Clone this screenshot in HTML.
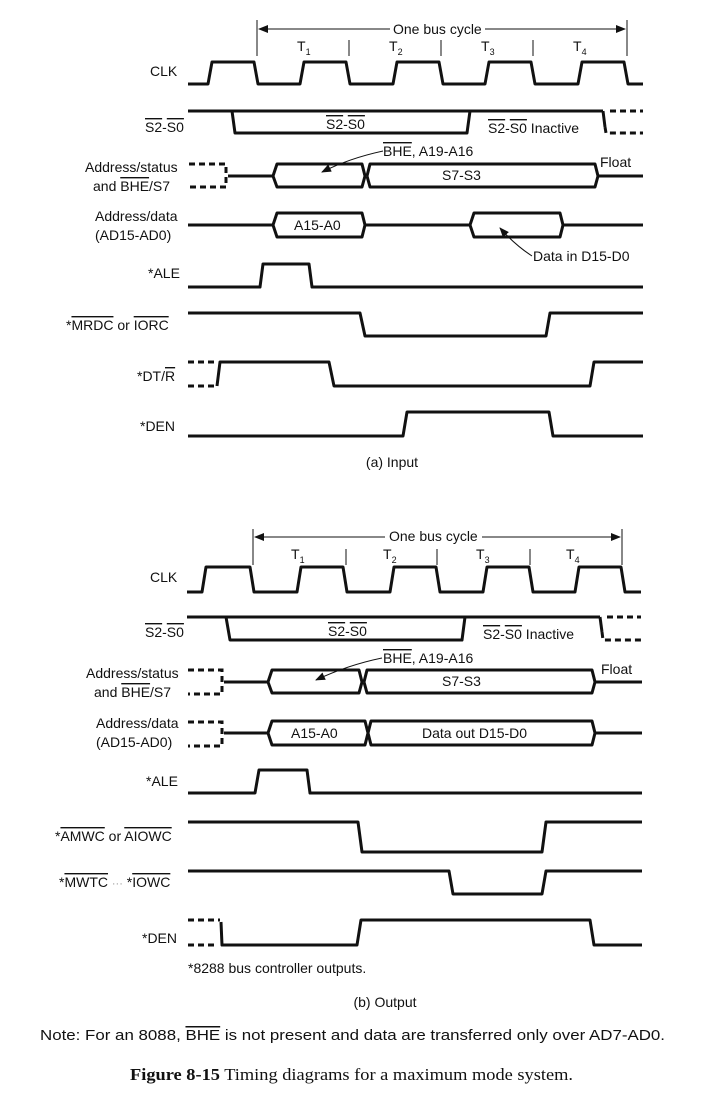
<!DOCTYPE html>
<html><head><meta charset="utf-8"><style>
html,body{margin:0;padding:0;background:#fff;}
svg{display:block;}
text{font-family:"Liberation Sans Narrow","Liberation Sans",sans-serif;font-size:14px;fill:#111;}
.o{text-decoration:overline;}
.w{fill:none;stroke:#111;stroke-width:3;stroke-linejoin:round;}
.d{fill:none;stroke:#111;stroke-width:3;stroke-dasharray:6,4;}
.t{fill:none;stroke:#111;stroke-width:1;}
</style></head><body>
<svg width="706" height="1103" viewBox="0 0 706 1103" xmlns="http://www.w3.org/2000/svg">
<defs><marker id="ar" markerWidth="10" markerHeight="8" refX="9" refY="4" orient="auto"><path d="M0,0 L10,4 L0,8 z" fill="#111"/></marker></defs>

<!-- ===== TOP (a) ===== -->
<line class="t" x1="257" y1="20" x2="257" y2="56"/><line class="t" x1="627" y1="20" x2="627" y2="56"/>
<line class="t" x1="390" y1="29" x2="259" y2="29" marker-end="url(#ar)"/>
<line class="t" x1="485" y1="29" x2="625" y2="29" marker-end="url(#ar)"/>
<text x="393" y="34">One bus cycle</text>
<line class="t" x1="349" y1="40" x2="349" y2="56"/><line class="t" x1="441" y1="40" x2="441" y2="56"/><line class="t" x1="533" y1="40" x2="533" y2="56"/>
<text x="297" y="51">T<tspan font-size="9" dy="4">1</tspan></text>
<text x="389" y="51">T<tspan font-size="9" dy="4">2</tspan></text>
<text x="481" y="51">T<tspan font-size="9" dy="4">3</tspan></text>
<text x="573" y="51">T<tspan font-size="9" dy="4">4</tspan></text>

<text x="150" y="76">CLK</text>
<path class="w" d="M188,84 H208 L212,62 H254 L258,84 H300 L304,62 H346 L350,84 H393 L397,62 H439 L443,84 H485 L489,62 H531 L535,84 H578 L582,62 H624 L628,84 H643"/>

<text x="145" y="132"><tspan class="o">S2</tspan>-<tspan class="o">S0</tspan></text>
<path class="w" d="M188,111 H603"/>
<path class="w" d="M232,111 L235,133 H467 L470,111"/>
<path class="w" d="M603,111 L605,127"/>
<path class="d" d="M610,111 H643 M605,127 L606,133 H643"/>
<text x="326" y="129"><tspan class="o">S2</tspan>-<tspan class="o">S0</tspan></text>
<text x="488" y="133"><tspan class="o">S2</tspan>-<tspan class="o">S0</tspan> Inactive</text>

<text x="85" y="172">Address/status</text>
<text x="93" y="191">and <tspan class="o">BHE</tspan>/S7</text>
<path class="d" d="M189,164 H226 V187 H189"/>
<path class="w" d="M228,176 H273 L277,164 H362 L365,176 L362,187 H277 L273,176 M367,176 L370,164 H595 L598,176 L595,187 H370 L367,176 M598,176 H643"/>
<text x="600" y="167">Float</text>
<text x="383" y="156"><tspan class="o">BHE</tspan>, A19-A16</text>
<path class="t" d="M383,151 Q350,158 322,172" marker-end="url(#ar)"/>
<text x="442" y="180">S7-S3</text>

<text x="95" y="221">Address/data</text>
<text x="95" y="240">(AD15-AD0)</text>
<path class="w" d="M188,225 H273 L277,213 H362 L365,225 L362,237 H277 L273,225 M365,225 H470 L474,213 H560 L563,225 L560,237 H474 L470,225 M563,225 H643"/>
<text x="294" y="230">A15-A0</text>
<path class="t" d="M532,256 Q515,245 500,228" marker-end="url(#ar)"/>
<text x="533" y="261">Data in D15-D0</text>

<text x="148" y="278">*ALE</text>
<path class="w" d="M188,287 H260 L263,264 H309 L312,287 H643"/>

<text x="66" y="330">*<tspan class="o">MRDC</tspan> or <tspan class="o">IORC</tspan></text>
<path class="w" d="M188,313 H360 L365,336 H546 L550,313 H643"/>

<text x="137" y="381">*DT/<tspan class="o">R</tspan></text>
<path class="d" d="M188,362 H214 M188,386 H217"/>
<path class="w" d="M217,386 L220,362 H329 L334,386 H590 L594,362 H643"/>

<text x="140" y="431">*DEN</text>
<path class="w" d="M188,436 H403 L407,412 H549 L553,436 H643"/>

<text x="392" y="467" text-anchor="middle">(a)  Input</text>

<!-- ===== BOTTOM (b) ===== -->
<line class="t" x1="253" y1="529" x2="253" y2="565"/><line class="t" x1="622" y1="529" x2="622" y2="565"/>
<line class="t" x1="385" y1="537" x2="255" y2="537" marker-end="url(#ar)"/>
<line class="t" x1="482" y1="537" x2="620" y2="537" marker-end="url(#ar)"/>
<text x="389" y="541">One bus cycle</text>
<line class="t" x1="346" y1="549" x2="346" y2="565"/><line class="t" x1="437" y1="549" x2="437" y2="565"/><line class="t" x1="530" y1="549" x2="530" y2="565"/>
<text x="291" y="559">T<tspan font-size="9" dy="4">1</tspan></text>
<text x="383" y="559">T<tspan font-size="9" dy="4">2</tspan></text>
<text x="476" y="559">T<tspan font-size="9" dy="4">3</tspan></text>
<text x="566" y="559">T<tspan font-size="9" dy="4">4</tspan></text>

<text x="150" y="582">CLK</text>
<path class="w" d="M187,592 H202 L206,567 H250 L254,592 H297 L301,567 H343 L347,592 H390 L394,567 H436 L440,592 H483 L487,567 H529 L533,592 H575 L579,567 H621 L625,592 H641"/>

<text x="145" y="637"><tspan class="o">S2</tspan>-<tspan class="o">S0</tspan></text>
<path class="w" d="M187,617 H600"/>
<path class="w" d="M226,617 L230,640 H462 L465,617"/>
<path class="w" d="M600,617 L602,632"/>
<path class="d" d="M607,617 H641 M602,632 L603,640 H641"/>
<text x="328" y="636"><tspan class="o">S2</tspan>-<tspan class="o">S0</tspan></text>
<text x="483" y="639"><tspan class="o">S2</tspan>-<tspan class="o">S0</tspan> Inactive</text>

<text x="86" y="678">Address/status</text>
<text x="94" y="697">and <tspan class="o">BHE</tspan>/S7</text>
<path class="d" d="M188,670 H222 V694 H188"/>
<path class="w" d="M224,682 H268 L272,670 H359 L362,682 L359,693 H272 L268,682 M364,682 L367,670 H592 L595,682 L592,693 H367 L364,682 M595,682 H642"/>
<text x="601" y="674">Float</text>
<text x="383" y="663"><tspan class="o">BHE</tspan>, A19-A16</text>
<path class="t" d="M382,658 Q348,665 316,680" marker-end="url(#ar)"/>
<text x="442" y="686">S7-S3</text>

<text x="96" y="728">Address/data</text>
<text x="96" y="747">(AD15-AD0)</text>
<path class="d" d="M188,722 H222 V746 H188"/>
<path class="w" d="M224,733 H268 L272,721 H365 L368,733 L365,745 H272 L268,733 M368,733 L371,721 H592 L595,733 L592,745 H371 L368,733 M595,733 H642"/>
<text x="291" y="738">A15-A0</text>
<text x="422" y="738">Data out D15-D0</text>

<text x="146" y="786">*ALE</text>
<path class="w" d="M188,793 H255 L259,770 H307 L310,793 H642"/>

<text x="55" y="841">*<tspan class="o">AMWC</tspan> or <tspan class="o">AIOWC</tspan></text>
<path class="w" d="M188,822 H358 L362,852 H542 L546,822 H642"/>

<text x="59" y="887">*<tspan class="o">MWTC</tspan> <tspan fill="#999" font-size="11">···</tspan> *<tspan class="o">IOWC</tspan></text>
<path class="w" d="M188,871 H449 L453,894 H542 L546,871 H642"/>

<text x="142" y="943">*DEN</text>
<path class="d" d="M188,920 H220 M188,945 H217"/>
<path class="w" d="M221,922 L222,945 H357 L361,920 H590 L594,945 H642"/>

<text x="188" y="973">*8288 bus controller outputs.</text>
<text x="385" y="1007" text-anchor="middle">(b)  Output</text>
<text x="40" y="1040" textLength="625" lengthAdjust="spacingAndGlyphs" style="font-size:15px">Note:  For an 8088, <tspan class="o">BHE</tspan> is not present and data are transferred only over AD7-AD0.</text>
<text x="130" y="1080" textLength="443" lengthAdjust="spacingAndGlyphs" style="font-family:'Liberation Serif',serif;font-size:17px"><tspan font-weight="bold">Figure 8-15</tspan>   Timing diagrams for a maximum mode system.</text>
</svg>
</body></html>
